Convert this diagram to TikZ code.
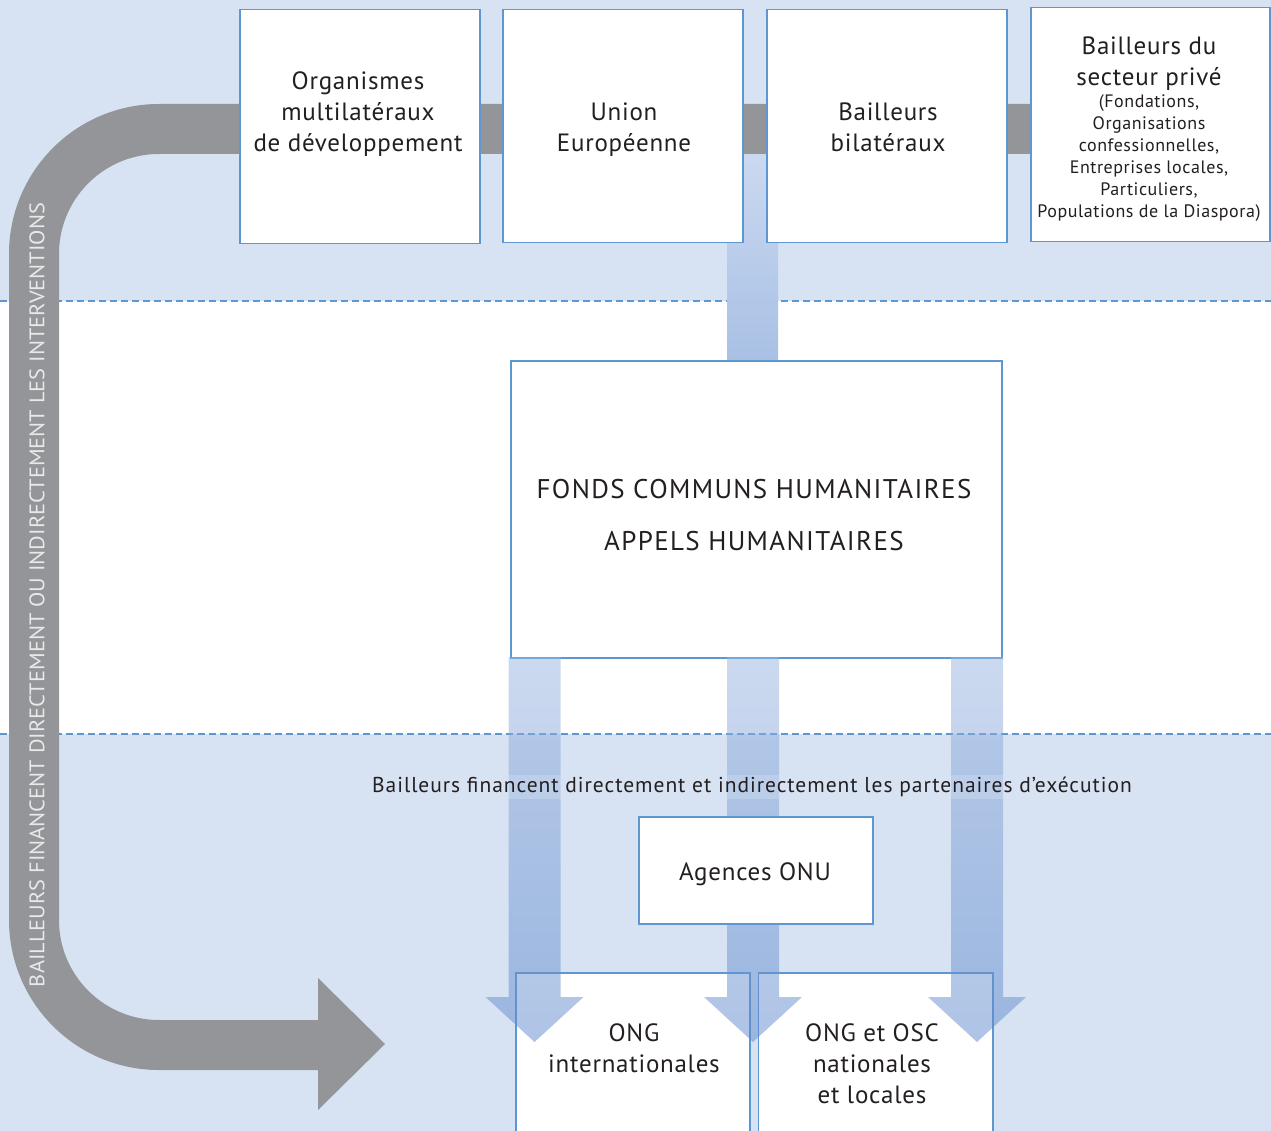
\documentclass[tikz,border=0pt]{standalone}
\usepackage{fontspec}
\setmainfont{PT Sans}
\newfontfamily\fA[LetterSpace=3]{PT Sans}
\newfontfamily\fB[LetterSpace=5]{PT Sans}
\newfontfamily\fC[LetterSpace=4.5]{PT Sans}
\usepackage{graphicx}
\definecolor{bgblue}{RGB}{215,227,242}
\definecolor{lineblue}{RGB}{94,150,210}
\definecolor{grayarrow}{RGB}{147,149,152}
\definecolor{txt}{RGB}{35,31,32}
\definecolor{vtext}{RGB}{232,233,234}
\definecolor{bartop}{RGB}{203,217,240}
\definecolor{barbot}{RGB}{168,192,229}
\definecolor{arrtop}{RGB}{153,181,225}
\definecolor{arrbot}{RGB}{95,137,205}
\newcommand\bluearrow[3]{%
  \shade[top color=arrtop,bottom color=arrbot,fill opacity=0.5]
    (#1-26,#2) -- (#1+26,#2) -- (#1+26,#3-45) -- (#1+49,#3-45) -- (#1,#3)
    -- (#1-49,#3-45) -- (#1-26,#3-45) -- cycle;}
\begin{document}
\begin{tikzpicture}[x=1pt,y=-1pt,
  box/.style={draw=lineblue,line width=1.5pt,fill=white,inner sep=0pt,anchor=north west},
  big/.style={text=txt,align=center,font=\fA\fontsize{25}{31}\selectfont},
  small/.style={text=txt,align=center,font=\fA\fontsize{18}{22}\selectfont},
  sep/.style={lineblue,line width=1.3pt,dash pattern=on 7pt off 4pt}]
\useasboundingbox (0,0) rectangle (1271,1131);
\clip (0,0) rectangle (1271,1131);
% background bands
\fill[bgblue] (0,0) rectangle (1271,301);
\fill[white] (0,301) rectangle (1271,734);
\fill[bgblue] (0,734) rectangle (1271,1131);
\draw[sep] (0,301) -- (1271,301);
\draw[sep] (0,734) -- (1271,734);
% top blue bar
\shade[top color=bartop,bottom color=barbot] (727,154) rectangle (778,361);
% gray arrow
\coordinate (g0) at (1100,129);
\coordinate (g1) at (34,129);
\coordinate (g2) at (34,1045);
\coordinate (g3) at (320,1045);
\draw[grayarrow,line width=50pt,rounded corners=125pt] (g0) -- (g1) -- (g2) -- (g3);
\fill[grayarrow] (318,978) -- (385,1044) -- (318,1110) -- cycle;
\node[rotate=90,text=vtext,inner sep=0pt] (vlabel) at (37,595)
  {\resizebox{784pt}{15pt}{BAILLEURS FINANCENT DIRECTEMENT OU INDIRECTEMENT LES INTERVENTIONS}};
% top boxes
\node[box,minimum width=240pt,minimum height=234pt] (b1) at (239,9) {};
\node[box,minimum width=240pt,minimum height=233pt] (b2) at (502,9) {};
\node[box,minimum width=240pt,minimum height=233pt] (b3) at (766,9) {};
\node[box,minimum width=239pt,minimum height=234pt] (b4) at (1030,7) {};
\node[big] (t1) at (358,114) {Organismes\\multilatéraux\\de développement};
\node[big] (t2) at (624,130) {Union\\Européenne};
\node[big] (t3) at (888,127) {Bailleurs\\bilatéraux};
\node[big] (t4) at (1149,64) {Bailleurs du\\secteur privé};
\node[small] (t4b) at (1149,158) {(Fondations,\\Organisations\\confessionnelles,\\Entreprises locales,\\Particuliers,\\Populations de la Diaspora)};
% central box
\node[box,minimum width=491pt,minimum height=297pt] (fonds) at (510,360) {};
\node[text=txt,align=center,font=\fB\fontsize{27}{52}\selectfont] (tf) at (754,515)
  {FONDS COMMUNS HUMANITAIRES\\APPELS HUMANITAIRES};
% bottom boxes
\node[box,minimum width=234pt,minimum height=180pt] (ong1) at (515,972) {};
\node[box,minimum width=234.5pt,minimum height=180pt] (ong2) at (757.5,972) {};
% blue arrows
\bluearrow{534.5}{657}{1042}
\bluearrow{753}{657}{1042}
\bluearrow{977}{657}{1042}
\node[box,minimum width=234pt,minimum height=107pt] (onu) at (638,816) {};
\node[big] (tonu) at (755,874) {Agences ONU};
\node[big] (tong1) at (634,1048) {ONG\\internationales};
\node[big] (tong2) at (872,1064) {ONG et OSC\\nationales\\et locales};
\node[text=txt,fill=bgblue,fill opacity=0.35,text opacity=1,inner sep=2pt,
  font=\fC\fontsize{21.5}{24}\selectfont] (lab) at (752,787)
  {Bailleurs financent directement et indirectement les partenaires d’exécution};
\end{tikzpicture}
\end{document}
